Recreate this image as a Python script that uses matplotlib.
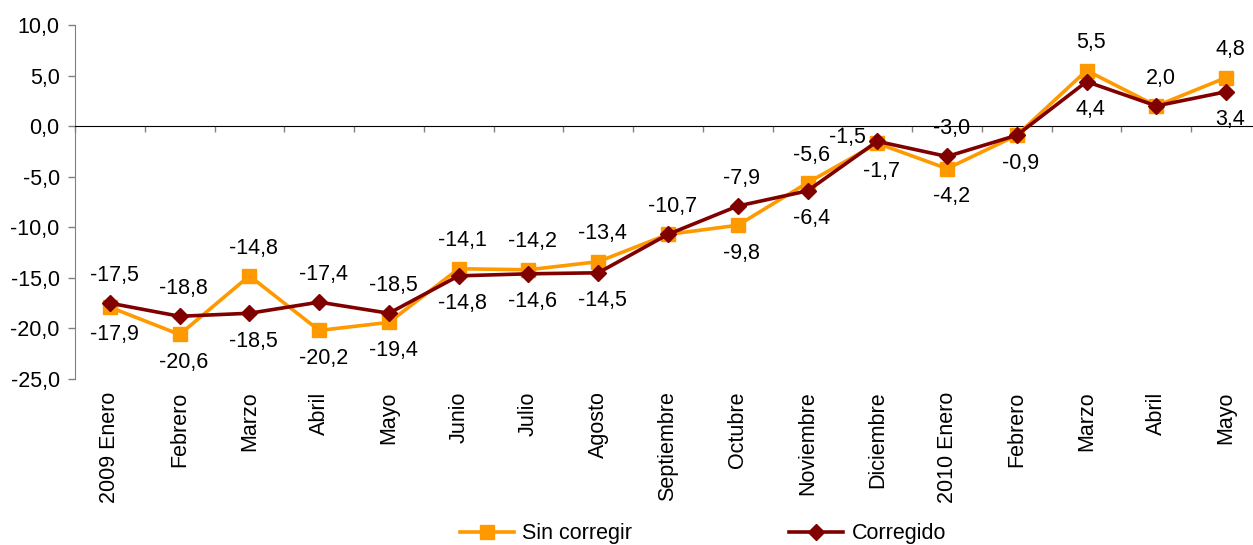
import numpy as np
import matplotlib
matplotlib.use("Agg")
import matplotlib.pyplot as plt
import matplotlib.transforms as mtransforms

plt.rcParams['font.family'] = ['Liberation Sans', 'DejaVu Sans']

# Data
months = ['2009 Enero', 'Febrero', 'Marzo', 'Abril', 'Mayo', 'Junio', 'Julio',
          'Agosto', 'Septiembre', 'Octubre', 'Noviembre', 'Diciembre',
          '2010 Enero', 'Febrero', 'Marzo', 'Abril', 'Mayo']
sin_corregir = [-17.9, -20.6, -14.8, -20.2, -19.4, -14.1, -14.2, -13.4, -10.7,
                -9.8, -5.6, -1.7, -4.2, -0.9, 5.5, 2.0, 4.8]
corregido = [-17.5, -18.8, -18.5, -17.4, -18.5, -14.8, -14.6, -14.5, -10.7,
             -7.9, -6.4, -1.5, -3.0, -0.9, 4.4, 2.0, 3.4]
yticks = [10, 5, 0, -5, -10, -15, -20, -25]

c_orange = '#FF9900'
c_red = '#800000'
fs = 15.5

fig = plt.figure(figsize=(12.53, 5.45), dpi=100)
# axes slightly wider than the figure: the last category is cut at the edge
ax = fig.add_axes([75 / 1253, 166 / 545, 1186 / 1253, 354 / 545])

x = np.arange(len(months))
ax.plot(x, sin_corregir, color=c_orange, lw=2.6, marker='s', ms=10,
        mfc=c_orange, mec=c_orange, label='Sin corregir', zorder=3)
ax.plot(x, corregido, color=c_red, lw=2.6, marker='D', ms=8.5,
        mfc=c_red, mec=c_red, label='Corregido', zorder=4)

ax.set_xlim(-0.5, len(months) - 0.5)
ax.set_ylim(-25, 10)

# y axis
ax.set_yticks(yticks)
ax.set_yticklabels([f'{v:.1f}'.replace('.', ',') for v in yticks], fontsize=fs)
ax.tick_params(axis='y', direction='out', length=5, width=1, color='#808080', pad=6)
ax.spines['left'].set_color('#808080')
ax.spines['top'].set_visible(False)
ax.spines['right'].set_visible(False)

# x axis crossing at zero, ticks at category boundaries
ax.spines['bottom'].set_position(('data', 0))
ax.spines['bottom'].set_color('black')
ax.set_xticks(np.arange(-0.5, len(months) + 0.5, 1))
ax.set_xticklabels([])
ax.tick_params(axis='x', direction='out', length=4.5, width=1, color='#808080')

# category labels at the bottom of the plot
trans = mtransforms.blended_transform_factory(ax.transData, ax.transAxes)
for i, m in enumerate(months):
    ax.text(i, -0.035, m, transform=trans, rotation=90, ha='center', va='top',
            fontsize=fs)

# data labels: higher value above, lower below
def fmt(v):
    return f'{v:.1f}'.replace('.', ',')

tie_below = {13}
hi_left = {11}
for i, (a, b) in enumerate(zip(sin_corregir, corregido)):
    if a == b:
        off = -20 if i in tie_below else 20
        ax.annotate(fmt(a), (i, a), xytext=(3, off), textcoords='offset points',
                    ha='center', va='center', fontsize=fs)
        continue
    hi, lo = (a, b) if a > b else (b, a)
    if i in hi_left:
        ax.annotate(fmt(hi), (i, hi), xytext=(-8, 3), textcoords='offset points',
                    ha='right', va='center', fontsize=fs)
    else:
        ax.annotate(fmt(hi), (i, hi), xytext=(3, 20), textcoords='offset points',
                    ha='center', va='center', fontsize=fs)
    ax.annotate(fmt(lo), (i, lo), xytext=(3, -20), textcoords='offset points',
                ha='center', va='center', fontsize=fs)

fig.legend(loc='center', bbox_to_anchor=(703 / 1253, 11 / 545), ncol=2,
           frameon=False, fontsize=fs, handlelength=2.5, handletextpad=0.4,
           columnspacing=7.3, borderpad=0)

fig.savefig('out.png', dpi=100)
